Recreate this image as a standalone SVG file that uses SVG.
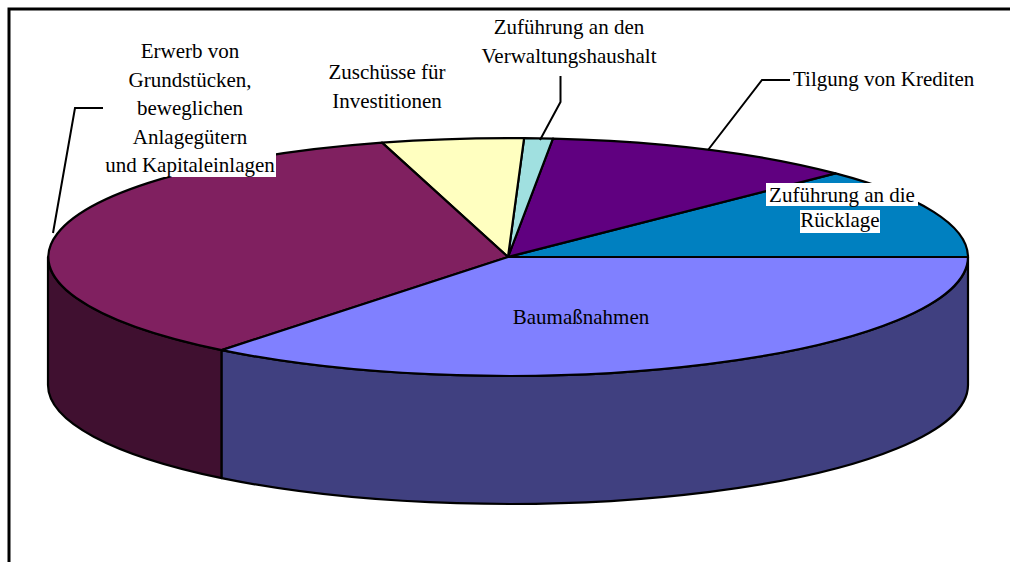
<svg xmlns="http://www.w3.org/2000/svg" width="1010" height="562" viewBox="0 0 1010 562">
<style>
.s{stroke:#000;stroke-width:2.2;stroke-linejoin:round}
.t{font-family:"Liberation Serif","Times New Roman",serif;font-size:21px;fill:#000}
.m{text-anchor:middle}
.ld{fill:none;stroke:#000;stroke-width:2}
</style>
<rect width="1010" height="562" fill="#fff"/>
<g id="frame"><path d="M9,562 V9 H1010" fill="none" stroke="#000" stroke-width="3"/></g>
<g id="sides">
<path class="s" fill="#401030" d="M48,257 A460,119 0 0,0 221.7,350.1 L221.7,478.1 A460,119 0 0,1 48,385 Z"/>
<path class="s" fill="#404080" d="M221.7,350.1 A460,119 0 0,0 968,257 L968,385 A460,119 0 0,1 221.7,478.1 Z"/>
</g>
<g id="slice-ruecklage"><path class="s" fill="#0080C0" d="M508,257 L968,257 A460,119 0 0,0 835.5,173.4 Z"/></g>
<g id="slice-tilgung"><path class="s" fill="#600080" d="M508,257 L835.5,173.4 A460,119 0 0,0 552.9,138.6 Z"/></g>
<g id="slice-verwaltung"><path class="s" fill="#A0E0E0" d="M508,257 L552.9,138.6 A460,119 0 0,0 524.1,138.1 Z"/></g>
<g id="slice-zuschuesse"><path class="s" fill="#FFFFC0" d="M508,257 L524.1,138.1 A460,119 0 0,0 382,142.6 Z"/></g>
<g id="slice-erwerb"><path class="s" fill="#802060" d="M508,257 L382,142.6 A460,119 0 0,0 221.7,350.1 Z"/></g>
<g id="slice-bau"><path class="s" fill="#8080FF" d="M508,257 L221.7,350.1 A460,119 0 0,0 968,257 Z"/></g>
<g id="connectors">
<path class="ld" d="M53,233 L75,108 H103"/>
<path class="ld" d="M560.5,76 V102 L540,140"/>
<path class="ld" d="M708,150 L762,80 H790"/>
</g>
<g id="label-erwerb">
<rect x="105" y="153" width="171" height="24" fill="#fff"/>
<text class="t m" x="190" y="58">Erwerb von</text>
<text class="t m" x="190" y="87">Grundstücken,</text>
<text class="t m" x="190" y="115">beweglichen</text>
<text class="t m" x="190" y="144">Anlagegütern</text>
<text class="t m" x="190" y="172">und Kapitaleinlagen</text>
</g>
<g id="label-zuschuesse">
<text class="t m" x="387" y="79">Zuschüsse für</text>
<text class="t m" x="387" y="108">Investitionen</text>
</g>
<g id="label-verwaltung">
<text class="t m" x="569" y="34">Zuführung an den</text>
<text class="t m" x="569" y="63">Verwaltungshaushalt</text>
</g>
<g id="label-tilgung">
<text class="t" x="793" y="86">Tilgung von Krediten</text>
</g>
<g id="label-ruecklage">
<rect x="766" y="183" width="152" height="23" fill="#fff"/>
<rect x="800" y="210" width="80" height="23" fill="#fff"/>
<text class="t m" x="842" y="202">Zuführung an die</text>
<text class="t m" x="840" y="227">Rücklage</text>
</g>
<g id="label-bau">
<text class="t m" x="581" y="324">Baumaßnahmen</text>
</g>
</svg>
